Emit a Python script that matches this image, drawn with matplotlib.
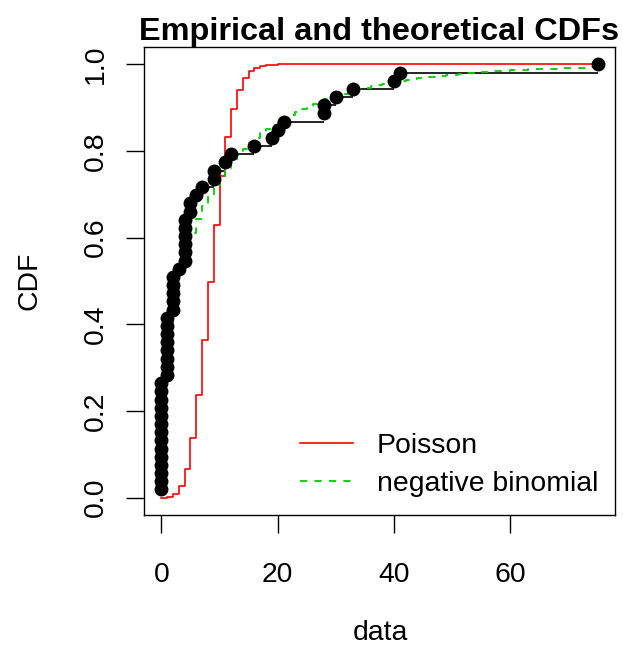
import numpy as np
import matplotlib
matplotlib.use("Agg")
import matplotlib.pyplot as plt

plt.rcParams['font.family'] = ['Liberation Sans', 'DejaVu Sans']

# observed counts (unique values and how many times each occurs), n = 53
obs_values = [0, 1, 2, 3, 4, 5, 6, 7, 9, 11, 12, 16, 19, 20, 21, 28, 30, 33, 40, 41, 75]
obs_counts = [14, 8, 5, 1, 6, 2, 1, 1, 2, 1, 1, 1, 1, 1, 1, 2, 1, 1, 1, 1, 1]

# theoretical CDFs at integers 0..75
poisson_cdf = [0.0002, 0.0017, 0.0081, 0.0266, 0.0668, 0.1366, 0.2375, 0.3627,
               0.4985, 0.6295, 0.7432, 0.8329, 0.8978, 0.9412, 0.9680, 0.9836,
               0.9920, 0.9963, 0.9984, 0.9994, 0.9998, 0.9999, 1.0] + [1.0] * 53
nbinom_cdf = [0.2886, 0.3982, 0.4714, 0.5274, 0.5728, 0.6110, 0.6439, 0.6726,
              0.6980, 0.7206, 0.7410, 0.7594, 0.7761, 0.7913, 0.8053, 0.8181,
              0.8298, 0.8407, 0.8507, 0.8600, 0.8687, 0.8767, 0.8841, 0.8910,
              0.8975, 0.9035, 0.9092, 0.9144, 0.9194, 0.9240, 0.9283, 0.9324,
              0.9362, 0.9397, 0.9431, 0.9462, 0.9492, 0.9520, 0.9546, 0.9571,
              0.9594, 0.9616, 0.9637, 0.9656, 0.9675, 0.9692, 0.9708, 0.9724,
              0.9738, 0.9752, 0.9765, 0.9777, 0.9789, 0.9800, 0.9810, 0.9820,
              0.9829, 0.9838, 0.9846, 0.9854, 0.9862, 0.9869, 0.9875, 0.9882,
              0.9888, 0.9893, 0.9899, 0.9904, 0.9909, 0.9913, 0.9918, 0.9922,
              0.9926, 0.9929, 0.9933, 0.9936]

x_grid = np.arange(len(nbinom_cdf))

fig = plt.figure(figsize=(6.23, 6.45), dpi=100)
ax = fig.add_axes([0.2311, 0.2016, 0.7561, 0.7255])

# empirical: a point per observation, horizontal step to the next value
data = np.repeat(obs_values, obs_counts)
n = len(data)
ecdf = np.arange(1, n + 1) / n
uniq_top = np.cumsum(obs_counts) / n
ax.hlines(uniq_top[:-1], obs_values[:-1], obs_values[1:], color='black', lw=1.2, zorder=2)

ax.step(x_grid, poisson_cdf, where='post', color='#ff0000', lw=1.2, zorder=3, label='Poisson')
ax.step(x_grid, nbinom_cdf, where='post', color='#00cd00', lw=1.3, dashes=(4, 4),
        zorder=3, label='negative binomial')
ax.plot(data, ecdf, 'o', color='black', ms=9, zorder=4)

ax.set_xlim(-3, 78)
ax.set_ylim(-0.04, 1.04)
ax.set_xticks([0, 20, 40, 60])
ax.set_yticks([0.0, 0.2, 0.4, 0.6, 0.8, 1.0])
ax.set_yticklabels(['0.0', '0.2', '0.4', '0.6', '0.8', '1.0'], rotation=90, va='center')
ax.tick_params(labelsize=20.4, length=13, width=1, direction='out', pad=21)
ax.tick_params(axis='y', pad=12)
for s in ax.spines.values():
    s.set_linewidth(1)

ax.set_title('Empirical and theoretical CDFs', fontsize=23.4, fontweight='bold', pad=5)
fig.text(0.61, 0.018, 'data', fontsize=20.4, ha='center', va='center')
fig.text(0.048, 0.564, 'CDF', fontsize=20.4, ha='center', va='center', rotation=90)

ax.legend(loc='lower right', bbox_to_anchor=(1.015, -0.012), frameon=False, fontsize=20.4,
          handlelength=1.85, handletextpad=0.85, labelspacing=0.4, borderaxespad=0.45)

fig.savefig('out.png', dpi=100)
